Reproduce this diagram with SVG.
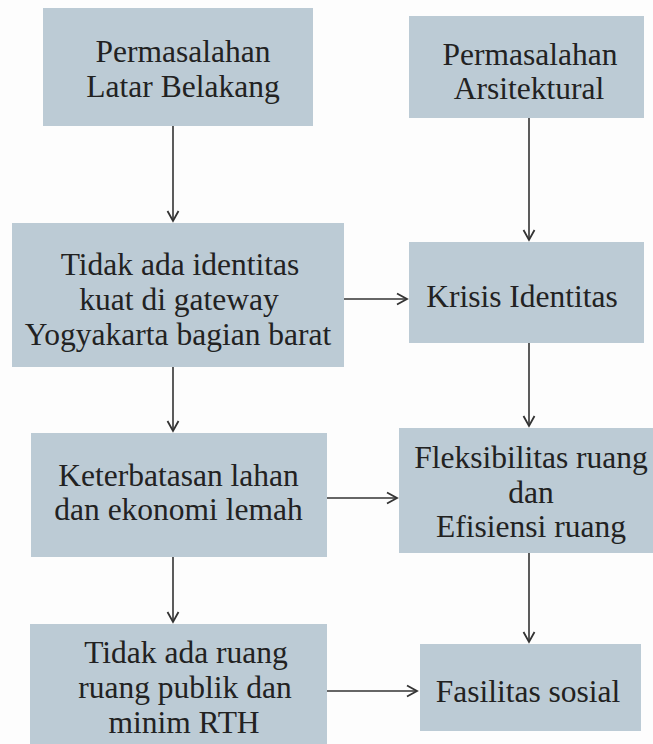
<svg xmlns="http://www.w3.org/2000/svg" width="653" height="744" viewBox="0 0 653 744">
<defs>
<style>
.box{fill:#bccbd5;}
.t{font-size:31.5px;fill:#222;text-anchor:middle;font-family:'Liberation Serif',serif !important;}
.c{stroke:#333;stroke-width:1.6;fill:none;}
</style>
<marker id="ah" viewBox="0 0 14 14" markerWidth="14" markerHeight="14" refX="12" refY="7" orient="auto" markerUnits="userSpaceOnUse">
<path d="M2,1.5 L12,7 L2,12.5" fill="none" stroke="#333" stroke-width="1.8"/>
</marker>
</defs>
<rect width="653" height="744" fill="#fdfdfd"/>
<g id="n1"><rect class="box" x="43" y="8" width="270" height="118"/>
<text class="t" style="font-family:'Liberation Serif',serif !important" x="183" y="62">Permasalahan</text><text class="t" style="font-family:'Liberation Serif',serif !important" x="183" y="97">Latar Belakang</text></g>
<g id="n2"><rect class="box" x="409" y="16" width="235" height="102"/>
<text class="t" style="font-family:'Liberation Serif',serif !important" x="530" y="65">Permasalahan</text><text class="t" style="font-family:'Liberation Serif',serif !important" x="529" y="99">Arsitektural</text></g>
<g id="n3"><rect class="box" x="12" y="223" width="332" height="144"/>
<text class="t" style="font-family:'Liberation Serif',serif !important" x="180" y="275">Tidak ada identitas</text><text class="t" style="font-family:'Liberation Serif',serif !important" x="179" y="310">kuat di gateway</text><text class="t" style="font-family:'Liberation Serif',serif !important" x="178" y="345">Yogyakarta bagian barat</text></g>
<g id="n4"><rect class="box" x="409" y="242" width="235" height="101"/>
<text class="t" style="font-family:'Liberation Serif',serif !important" x="522" y="307">Krisis Identitas</text></g>
<g id="n5"><rect class="box" x="31" y="433" width="296" height="124"/>
<text class="t" style="font-family:'Liberation Serif',serif !important" x="178.5" y="486">Keterbatasan lahan</text><text class="t" style="font-family:'Liberation Serif',serif !important" x="178.5" y="520">dan ekonomi lemah</text></g>
<g id="n6"><rect class="box" x="399" y="428" width="254" height="125"/>
<text class="t" style="font-family:'Liberation Serif',serif !important" x="531" y="468">Fleksibilitas ruang</text><text class="t" style="font-family:'Liberation Serif',serif !important" x="531" y="503">dan</text><text class="t" style="font-family:'Liberation Serif',serif !important" x="531" y="537">Efisiensi ruang</text></g>
<g id="n7"><rect class="box" x="30" y="624" width="297" height="120"/>
<text class="t" style="font-family:'Liberation Serif',serif !important" x="186" y="663">Tidak ada ruang</text><text class="t" style="font-family:'Liberation Serif',serif !important" x="185" y="698">ruang publik dan</text><text class="t" style="font-family:'Liberation Serif',serif !important" x="184" y="733">minim RTH</text></g>
<g id="n8"><rect class="box" x="420" y="644" width="221" height="87"/>
<text class="t" style="font-family:'Liberation Serif',serif !important" x="528" y="702">Fasilitas sosial</text></g>
<g id="connectors" class="c">
<line x1="173" y1="126" x2="173" y2="221" marker-end="url(#ah)"/>
<line x1="529" y1="118" x2="529" y2="240" marker-end="url(#ah)"/>
<line x1="344" y1="299" x2="407" y2="299" marker-end="url(#ah)"/>
<line x1="529" y1="343" x2="529" y2="426" marker-end="url(#ah)"/>
<line x1="173" y1="367" x2="173" y2="431" marker-end="url(#ah)"/>
<line x1="327" y1="498" x2="397" y2="498" marker-end="url(#ah)"/>
<line x1="529" y1="553" x2="529" y2="642" marker-end="url(#ah)"/>
<line x1="173" y1="557" x2="173" y2="622" marker-end="url(#ah)"/>
<line x1="327" y1="691" x2="417" y2="691" marker-end="url(#ah)"/>
</g>
</svg>
